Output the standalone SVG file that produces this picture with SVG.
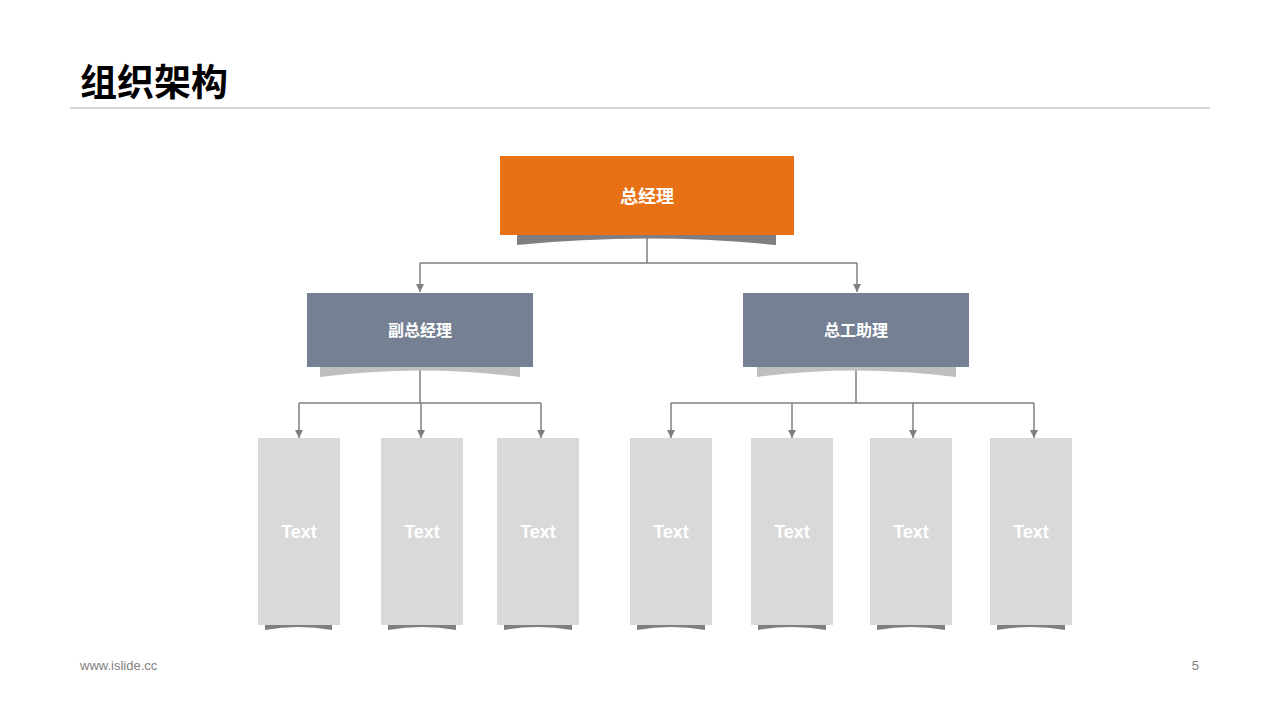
<svg xmlns="http://www.w3.org/2000/svg" width="1280" height="720" viewBox="0 0 1280 720">
<defs>
<marker id="arr" viewBox="0 0 10 10" refX="10" refY="5" markerWidth="8" markerHeight="8" markerUnits="userSpaceOnUse" orient="auto">
<path d="M0,0 L10,5 L0,10 z" fill="#7f7f7f"/>
</marker>
</defs>
<style>
.cn{font-family:"Noto Sans CJK SC","Noto Sans",sans-serif;font-weight:bold;fill:#fff;text-anchor:middle;}
.lt{font-family:"Liberation Sans",Arial,sans-serif;font-weight:bold;fill:#fff;font-size:18px;text-anchor:middle;}
.ln{fill:none;stroke:#7f7f7f;stroke-width:1.5;}
.leaf{fill:#d9d9d9;}
.sh{fill:#7f7f7f;}
</style>
<rect width="1280" height="720" fill="#fff"/>
<text x="80" y="96" font-family="Noto Sans CJK SC,sans-serif" font-weight="bold" font-size="37" fill="#000">组织架构</text>
<line x1="70" y1="108" x2="1210" y2="108" stroke="#a6a6a6" stroke-width="1"/>

<g id="connectors">
<path class="ln" d="M647,235 V263 M420,263 H857"/>
<path class="ln" d="M420,263 V292" marker-end="url(#arr)"/>
<path class="ln" d="M857,263 V292" marker-end="url(#arr)"/>
<path class="ln" d="M420,367 V403 M299,403 H541 M856,367 V403 M671,403 H1034"/>
<path class="ln" d="M299,403 V438" marker-end="url(#arr)"/>
<path class="ln" d="M421,403 V438" marker-end="url(#arr)"/>
<path class="ln" d="M541,403 V438" marker-end="url(#arr)"/>
<path class="ln" d="M671,403 V438" marker-end="url(#arr)"/>
<path class="ln" d="M792,403 V438" marker-end="url(#arr)"/>
<path class="ln" d="M913,403 V438" marker-end="url(#arr)"/>
<path class="ln" d="M1034,403 V438" marker-end="url(#arr)"/>
</g>

<g id="gm">
<path d="M517,235 H776 V245 Q647,232 517,245 Z" fill="#7f7f7f"/>
<rect x="500" y="156" width="294" height="79" fill="#e87015"/>
<text class="cn" x="647" y="203" font-size="18">总经理</text>
</g>

<g id="vgm">
<path d="M320,367 H520 V377 Q420,364 320,377 Z" fill="#bfbfbf"/>
<rect x="307" y="293" width="226" height="74" fill="#758193"/>
<text class="cn" x="420" y="336" font-size="16">副总经理</text>
</g>

<g id="asst">
<path d="M757,367 H956 V377 Q856,364 757,377 Z" fill="#bfbfbf"/>
<rect x="743" y="293" width="226" height="74" fill="#758193"/>
<text class="cn" x="856" y="336" font-size="16">总工助理</text>
</g>

<g id="leaf1"><path class="sh" d="M265,625 H332 V630 Q298,624 265,630 Z"/><rect class="leaf" x="258" y="438" width="82" height="187"/><text class="lt" x="299" y="538">Text</text></g>
<g id="leaf2"><path class="sh" d="M388,625 H456 V630 Q422,624 388,630 Z"/><rect class="leaf" x="381" y="438" width="82" height="187"/><text class="lt" x="422" y="538">Text</text></g>
<g id="leaf3"><path class="sh" d="M504,625 H572 V630 Q538,624 504,630 Z"/><rect class="leaf" x="497" y="438" width="82" height="187"/><text class="lt" x="538" y="538">Text</text></g>
<g id="leaf4"><path class="sh" d="M637,625 H705 V630 Q671,624 637,630 Z"/><rect class="leaf" x="630" y="438" width="82" height="187"/><text class="lt" x="671" y="538">Text</text></g>
<g id="leaf5"><path class="sh" d="M758,625 H826 V630 Q792,624 758,630 Z"/><rect class="leaf" x="751" y="438" width="82" height="187"/><text class="lt" x="792" y="538">Text</text></g>
<g id="leaf6"><path class="sh" d="M877,625 H945 V630 Q911,624 877,630 Z"/><rect class="leaf" x="870" y="438" width="82" height="187"/><text class="lt" x="911" y="538">Text</text></g>
<g id="leaf7"><path class="sh" d="M997,625 H1065 V630 Q1031,624 997,630 Z"/><rect class="leaf" x="990" y="438" width="82" height="187"/><text class="lt" x="1031" y="538">Text</text></g>

<text x="80" y="670" font-family="Liberation Sans,Arial,sans-serif" font-size="13" fill="#808080">www.islide.cc</text>
<text x="1199" y="670" font-family="Liberation Sans,Arial,sans-serif" font-size="13" fill="#808080" text-anchor="end">5</text>
</svg>
